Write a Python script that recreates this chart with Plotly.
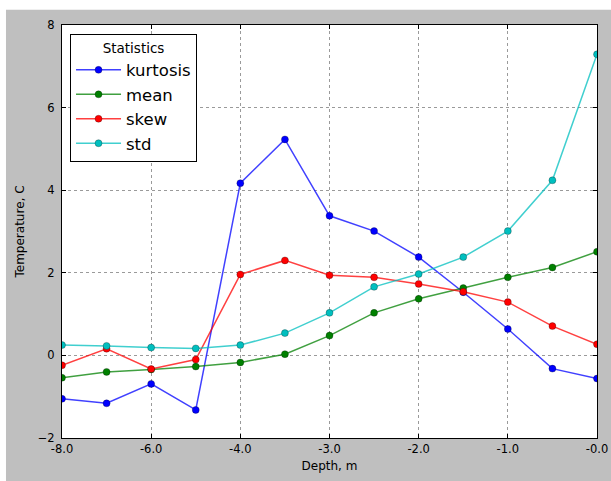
import plotly.graph_objects as go

# Depth stations (m) and per-depth temperature statistics (C)
depths = [-8.0, -7.0, -6.0, -5.0, -4.0, -3.5, -3.0, -2.5, -2.0, -1.5, -1.0, -0.5, -0.0]
kurtosis = [-1.05, -1.16, -0.69, -1.32, 4.17, 5.23, 3.38, 3.01, 2.38, 1.53, 0.64, -0.32, -0.56]
mean = [-0.54, -0.40, -0.34, -0.27, -0.17, 0.03, 0.48, 1.03, 1.37, 1.63, 1.89, 2.13, 2.51]
skew = [-0.24, 0.16, -0.33, -0.10, 1.96, 2.30, 1.94, 1.89, 1.73, 1.54, 1.29, 0.71, 0.27]
std = [0.25, 0.23, 0.19, 0.17, 0.25, 0.54, 1.03, 1.66, 1.97, 2.38, 3.01, 4.24, 7.29]

y_ticks = [-2, 0, 2, 4, 6, 8]
y_tick_text = ["\u22122", "0", "2", "4", "6", "8"]

depth_labels = [f"{d:.1f}" for d in depths]

series = [
    ("kurtosis", kurtosis, "0,0,255"),
    ("mean", mean, "0,128,0"),
    ("skew", skew, "255,0,0"),
    ("std", std, "0,191,191"),
]

FONT = "DejaVu Sans"

fig = go.Figure()
for name, values, rgb in series:
    fig.add_trace(go.Scatter(
        x=depth_labels,
        y=values,
        name=name,
        mode="lines+markers",
        line=dict(color=f"rgba({rgb},0.75)", width=1.5),
        marker=dict(color=f"rgb({rgb})", size=7,
                    line=dict(color="rgba(0,0,0,0.45)", width=0.6)),
    ))

axis_common = dict(
    showline=True, linecolor="black", linewidth=1, mirror="ticks",
    ticks="inside", ticklen=4, tickcolor="black",
    showgrid=True, gridcolor="#9a9a9a", gridwidth=1, griddash="dot",
    zeroline=False, automargin=False,
    tickfont=dict(family=FONT, size=11.5, color="black"),
)

fig.update_xaxes(
    type="category",
    range=[0, len(depths) - 1],
    tickmode="array",
    tickvals=depth_labels[::2],
    ticktext=depth_labels[::2],
    title=dict(text="Depth, m", font=dict(family=FONT, size=12, color="black"), standoff=6),
    **axis_common,
)
fig.update_yaxes(
    range=[-2, 8],
    tickmode="array",
    tickvals=y_ticks,
    ticktext=y_tick_text,
    ticklabelstandoff=4,
    title=dict(text="Temperature, C", font=dict(family=FONT, size=12, color="black"), standoff=10),
    **axis_common,
)

fig.update_layout(
    width=611, height=481,
    margin=dict(l=62, r=14, t=25, b=43),
    paper_bgcolor="#bfbfbf",
    plot_bgcolor="white",
    font=dict(family=FONT, color="black"),
    legend=dict(
        title=dict(text="Statistics", font=dict(family=FONT, size=13.5), side="top center"),
        font=dict(family=FONT, size=16.5),
        itemwidth=45,
        x=0.015, y=0.978, xanchor="left", yanchor="top",
        bgcolor="white", bordercolor="black", borderwidth=1,
    ),
    shapes=[
        # white strips framing the grey figure area on the top and left edges
        dict(type="rect", xref="paper", yref="paper", x0=-0.2, x1=1.2, y0=1.037, y1=1.2,
             fillcolor="white", line=dict(width=0), layer="above"),
        dict(type="rect", xref="paper", yref="paper", x0=-0.2, x1=-0.1047, y0=-0.2, y1=1.2,
             fillcolor="white", line=dict(width=0), layer="above"),
    ],
)

fig.write_html("out.html")
